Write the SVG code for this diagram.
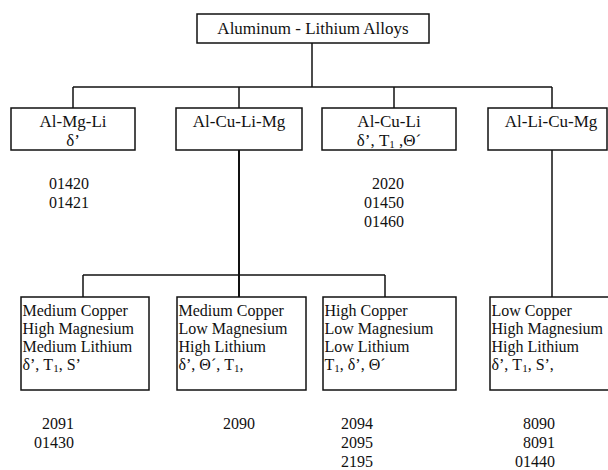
<svg xmlns="http://www.w3.org/2000/svg" width="608" height="470" viewBox="0 0 608 470" font-family="'Liberation Serif', 'Times New Roman', Times, serif">
<style>
  .box { fill: #fff; stroke: #111; stroke-width: 1.5; }
  .ln { stroke: #111; stroke-width: 1.5; fill: none; }
  .thick { stroke-width: 2; }
  text { font-family: 'Liberation Serif', 'Times New Roman', Times, serif; fill: #111; }
  .h { font-size: 17px; text-anchor: middle; }
  .b { font-size: 16px; }
  .n { font-size: 16px; }
  .e { text-anchor: end; }
  .sub { font-size: 11px; }
</style>
<rect width="608" height="470" fill="#fff"/>
<g id="connectors">
  <line class="ln" x1="312" y1="43" x2="312" y2="87"/>
  <line class="ln" x1="73" y1="87" x2="552" y2="87"/>
  <line class="ln" x1="73" y1="87" x2="73" y2="108"/>
  <line class="ln" x1="239" y1="87" x2="239" y2="108"/>
  <line class="ln" x1="394" y1="87" x2="394" y2="108"/>
  <line class="ln" x1="552" y1="87" x2="552" y2="108"/>
  <line class="ln thick" x1="239" y1="150" x2="239" y2="297"/>
  <line class="ln" x1="552" y1="150" x2="552" y2="297"/>
  <line class="ln" x1="83" y1="275" x2="385" y2="275"/>
  <line class="ln" x1="83" y1="275" x2="83" y2="297"/>
  <line class="ln" x1="385" y1="275" x2="385" y2="297"/>
</g>
<g id="root">
  <rect class="box" x="197" y="14" width="232" height="29"/>
  <text class="h" x="313" y="34">Aluminum - Lithium Alloys</text>
</g>
<g id="al-mg-li">
  <rect class="box" x="11" y="108" width="124" height="42"/>
  <text class="h" x="73" y="127">Al-Mg-Li</text>
  <text class="h" x="73" y="146">δ’</text>
</g>
<g id="al-cu-li-mg">
  <rect class="box" x="176" y="108" width="126" height="42"/>
  <text class="h" x="239" y="127">Al-Cu-Li-Mg</text>
</g>
<g id="al-cu-li">
  <rect class="box" x="322" y="108" width="134" height="42"/>
  <text class="h" x="389" y="127">Al-Cu-Li</text>
  <text class="h" x="389" y="146">δ’, T<tspan class="sub" dy="2">1</tspan><tspan dy="-2"> ,Θ´</tspan></text>
</g>
<g id="al-li-cu-mg">
  <rect class="box" x="488" y="108" width="119" height="42"/>
  <text class="h" x="551" y="127">Al-Li-Cu-Mg</text>
</g>
<g id="nums-al-mg-li">
  <text class="n" x="49" y="189">01420</text>
  <text class="n" x="49" y="208">01421</text>
</g>
<g id="nums-al-cu-li">
  <text class="n e" x="404" y="189">2020</text>
  <text class="n e" x="404" y="208">01450</text>
  <text class="n e" x="404" y="227">01460</text>
</g>
<g id="box-a">
  <rect class="box" x="21" y="297" width="128" height="93"/>
  <text class="b" x="22.5" y="316">Medium Copper</text>
  <text class="b" x="22.5" y="334">High Magnesium</text>
  <text class="b" x="22.5" y="352">Medium Lithium</text>
  <text class="b" x="22.5" y="370">δ’, T<tspan class="sub" dy="2">1</tspan><tspan dy="-2">, S’</tspan></text>
</g>
<g id="box-b">
  <rect class="box" x="177" y="297" width="129" height="93"/>
  <text class="b" x="178.5" y="316">Medium Copper</text>
  <text class="b" x="178.5" y="334">Low Magnesium</text>
  <text class="b" x="178.5" y="352">High Lithium</text>
  <text class="b" x="178.5" y="370">δ’, Θ´, T<tspan class="sub" dy="2">1</tspan><tspan dy="-2">,</tspan></text>
</g>
<g id="box-c">
  <rect class="box" x="323" y="297" width="133" height="93"/>
  <text class="b" x="324.5" y="316">High Copper</text>
  <text class="b" x="324.5" y="334">Low Magnesium</text>
  <text class="b" x="324.5" y="352">Low Lithium</text>
  <text class="b" x="324.5" y="370">T<tspan class="sub" dy="2">1</tspan><tspan dy="-2">, δ’, Θ´</tspan></text>
</g>
<g id="box-d">
  <rect class="box" x="490" y="297" width="119" height="93"/>
  <text class="b" x="491.5" y="316">Low Copper</text>
  <text class="b" x="491.5" y="334">High Magnesium</text>
  <text class="b" x="491.5" y="352">High Lithium</text>
  <text class="b" x="491.5" y="370">δ’, T<tspan class="sub" dy="2">1</tspan><tspan dy="-2">, S’,</tspan></text>
</g>
<g id="nums-a">
  <text class="n e" x="74" y="429">2091</text>
  <text class="n e" x="74" y="448">01430</text>
</g>
<g id="nums-b">
  <text class="n" x="223" y="429">2090</text>
</g>
<g id="nums-c">
  <text class="n" x="341" y="429">2094</text>
  <text class="n" x="341" y="448">2095</text>
  <text class="n" x="341" y="467">2195</text>
</g>
<g id="nums-d">
  <text class="n e" x="555" y="429">8090</text>
  <text class="n e" x="555" y="448">8091</text>
  <text class="n e" x="555" y="467">01440</text>
</g>
</svg>
